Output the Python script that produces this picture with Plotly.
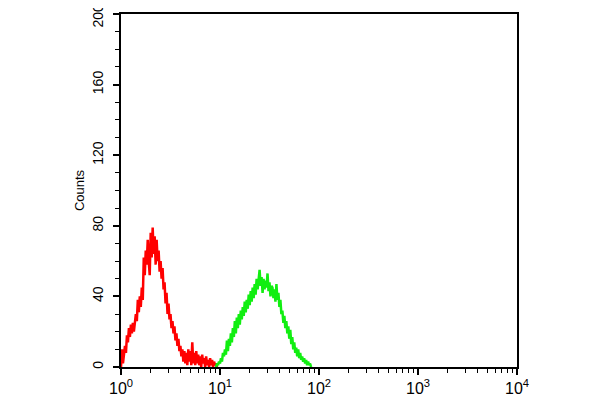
import plotly.graph_objects as go

# histogram channels: 100 channels per decade, intensity = 10 ** (channel / 100)
red_start = 0
red_counts = [
    0, 10, 2, 6, 12, 8, 18, 14, 22, 17,
    24, 19, 25, 20, 24, 30, 26, 38, 31, 40,
    34, 45, 38, 62, 52, 66, 58, 72, 60, 52,
    76, 62, 79, 64, 74, 58, 72, 60, 66, 54,
    60, 50, 56, 44, 48, 36, 42, 30, 36, 27,
    30, 22, 26, 19, 23, 15, 19, 12, 16, 9,
    12, 6, 10, 3, 9, 2, 8, 1, 10, 3,
    9, 1, 14, 2, 8, 1, 9, 2, 7, 1,
    6, 0, 7, 2, 5, 0, 6, 1, 4, 0,
    5, 1, 4, 0, 3, 1, 2, 0, 0,
]

green_start = 96
green_counts = [
    0, 2, 1, 3,
    2, 5, 3, 8, 6, 10, 7, 15, 9, 16,
    12, 19, 14, 22, 17, 26, 19, 28, 22, 30,
    24, 32, 27, 34, 29, 37, 31, 38, 33, 41,
    35, 43, 37, 45, 39, 47, 41, 50, 44, 52,
    55, 46, 51, 42, 50, 44, 49, 45, 53, 43,
    48, 40, 46, 45, 39, 44, 37, 47, 38, 42,
    34, 38, 30, 32, 25, 29, 22, 26, 19, 23,
    16, 21, 13, 17, 10, 14, 8, 11, 6, 10,
    5, 8, 4, 6, 3, 5, 2, 4, 1, 3,
    1, 2, 0, 0,
]

x_major = [1, 10, 100, 1000, 10000]
x_labels = ["10<sup>0</sup>", "10<sup>1</sup>", "10<sup>2</sup>", "10<sup>3</sup>", "10<sup>4</sup>"]
x_minor = [m * 10 ** k for k in range(4) for m in range(2, 10)]
y_major = [0, 40, 80, 120, 160, 200]
# top label padded so it is not clipped at the page edge
y_labels = ["0", "40", "80", "120", "160", "200\u00a0\u00a0"]


def channels_to_x(start, counts):
    return [10 ** ((start + i) / 100) for i in range(len(counts))]


fig = go.Figure()
fig.add_trace(go.Scatter(
    x=channels_to_x(red_start, red_counts), y=red_counts,
    mode="lines", line=dict(color="#ff0000", width=2.5), showlegend=False
))
fig.add_trace(go.Scatter(
    x=channels_to_x(green_start, green_counts), y=green_counts,
    mode="lines", line=dict(color="#11ee11", width=2.5), showlegend=False
))

font_name = "Liberation Sans, Arial, sans-serif"

# the page body adds an 8px offset, margins are set so the frame lands where the reference has it
fig.update_layout(
    width=600, height=400,
    margin=dict(l=113, r=91, t=6, b=41),
    paper_bgcolor="white", plot_bgcolor="white",
    font=dict(family=font_name, color="black"),
    xaxis=dict(
        type="log", range=[0, 4], automargin=False,
        tickmode="array", tickvals=x_major, ticktext=x_labels,
        ticks="outside", ticklen=6, tickwidth=1.5, tickcolor="black",
        ticklabeloverflow="allow",
        minor=dict(tickmode="array", tickvals=x_minor, ticks="outside",
                   ticklen=4, tickwidth=1.2, tickcolor="black"),
        showline=True, linecolor="black", linewidth=2, mirror=True,
        showgrid=False, zeroline=False,
        tickfont=dict(family=font_name, size=16, color="black"),
    ),
    yaxis=dict(
        range=[0, 200], automargin=False,
        tickmode="array", tickvals=y_major, ticktext=y_labels, tickangle=-90,
        ticks="outside", ticklen=6, tickwidth=1.5, tickcolor="black",
        ticklabelstandoff=4, ticklabeloverflow="allow",
        minor=dict(dtick=10, ticks="outside", ticklen=4, tickwidth=1.2, tickcolor="black"),
        showline=True, linecolor="black", linewidth=2, mirror=True,
        showgrid=False, zeroline=False,
        tickfont=dict(family=font_name, size=14, color="black"),
        title=dict(text="Counts", standoff=3,
                   font=dict(family=font_name, size=13, color="black")),
    ),
)

fig.write_html("out.html")
